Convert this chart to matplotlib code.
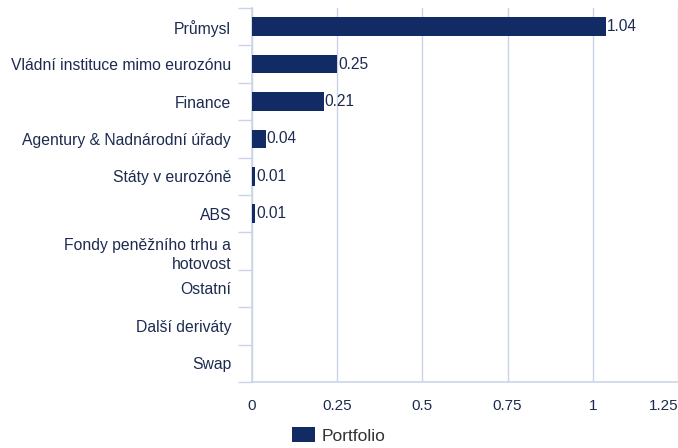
import matplotlib
matplotlib.use("Agg")
from matplotlib import pyplot as plt
import numpy as np

categories = ["Průmysl", "Vládní instituce mimo eurozónu", "Finance",
              "Agentury & Nadnárodní úřady", "Státy v eurozóně", "ABS",
              "Fondy peněžního trhu a\nhotovost", "Ostatní", "Další deriváty", "Swap"]
values = [1.04, 0.25, 0.21, 0.04, 0.01, 0.01, 0, 0, 0, 0]
value_labels = ["1.04", "0.25", "0.21", "0.04", "0.01", "0.01", "", "", "", ""]
xticks = [0, 0.25, 0.5, 0.75, 1, 1.25]
xtick_labels = ["0", "0.25", "0.5", "0.75", "1", "1.25"]

bar_color = "#132b65"
text_color = "#1c2b4f"
grid_color = "#c9d5e6"

plt.rcParams['font.family'] = ['Liberation Sans', 'DejaVu Sans']

fig = plt.figure(figsize=(6.78, 4.48), dpi=100)
ax = fig.add_axes([252 / 678, 1 - 382 / 448, 1 - 252 / 678, (382 - 8) / 448])

y = np.arange(len(categories))
bars = ax.barh(y, values, height=0.5, color=bar_color, label="Portfolio", zorder=3)
for b, lab in zip(bars, value_labels):
    if lab:
        ax.text(b.get_width() + 0.002, b.get_y() + b.get_height() / 2, lab,
                va="center", ha="left", fontsize=11.2, color=text_color, zorder=4)

ax.set_ylim(len(categories) - 0.5, -0.5)
ax.set_xlim(0, 1.25)
ax.set_yticks(y)
ax.set_yticklabels(categories, fontsize=11.3, color=text_color, linespacing=1.4)
ax.set_yticks(np.arange(-0.5, len(categories), 1), minor=True)
ax.tick_params(axis="y", which="major", length=0, pad=15)
ax.tick_params(axis="y", which="minor", length=10, color=grid_color, width=1)

ax.set_xticks(xticks)
ax.set_xticklabels(xtick_labels, fontsize=11, color=text_color)
ax.tick_params(axis="x", length=0, pad=12)
ax.get_xticklabels()[-1].set_horizontalalignment("right")

ax.grid(axis="x", color=grid_color, linewidth=1, zorder=0)
for side in ["top", "right"]:
    ax.spines[side].set_visible(False)
for side in ["left", "bottom"]:
    ax.spines[side].set_color(grid_color)
    ax.spines[side].set_linewidth(1.2)

fig.legend(loc="lower center", bbox_to_anchor=(0.5, -0.025), frameon=False,
           fontsize=12.5, handlelength=1.32, handleheight=0.92, handletextpad=0.4,
           labelcolor="#333333")

fig.savefig("out.png", dpi=100)
